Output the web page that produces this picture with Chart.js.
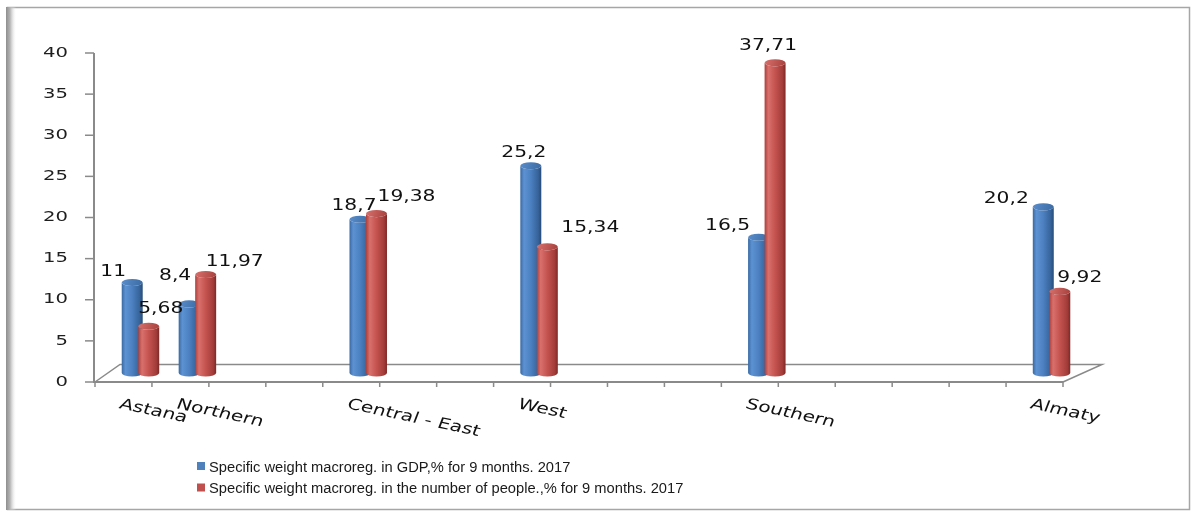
<!DOCTYPE html>
<html>
<head>
<meta charset="utf-8">
<script src="https://cdn.jsdelivr.net/npm/chart.js@4/dist/chart.umd.min.js"></script>
<style>
  html, body { margin: 0; padding: 0; background: #ffffff; }
  #wrap { width: 1192px; height: 511px; position: relative; }
</style>
</head>
<body>
<div id="wrap"><canvas id="chart" width="1192" height="511"></canvas></div>
<script>
// Macro-regions on the category axis (empty slots keep the original spacing)
const regions = ['Astana', 'Northern', '', '', 'Central - East', '', '', 'West', '', '', '',
                 'Southern', '', '', '', '', 'Almaty'];

// Share of GDP, % for 9 months 2017
const gdpShare = [11, 8.4, null, null, 18.7, null, null, 25.2, null, null, null,
                  16.5, null, null, null, null, 20.2];

// Share of population, % for 9 months 2017
const populationShare = [5.68, 11.97, null, null, 19.38, null, null, 15.34, null, null, null,
                         37.71, null, null, null, null, 9.92];

const seriesNames = [
  'Specific weight macroreg. in GDP,% for 9 months. 2017',
  'Specific weight macroreg. in the number of people.,% for 9 months. 2017'
];

const yTickValues = [0, 5, 10, 15, 20, 25, 30, 35, 40];

// Where each value label sits relative to the top of its column [dx, dy]
const gdpLabelNudge = [[-19, -10], [-14, -28], null, null, [-6, -13], null, null, [-7, -13], null, null, null,
                       [-31, -11], null, null, null, null, [-37, -8]];
const popLabelNudge = [[12, -17], [29, -12], null, null, [30, -16], null, null, [43, -19], null, null, null,
                       [-7, -17], null, null, null, null, [20, -13]];

// Styling
const BLUE = '#4F81BD';
const RED = '#C0504D';
const palettes = [
  { body: [[0, '#3a6aa3'], [0.18, '#5d92d2'], [0.5, '#4c80c0'], [0.85, '#36639a'], [1, '#274c79']],
    top: ['#5a8dcc', '#3b6aa2'] },
  { body: [[0, '#ab3f3c'], [0.18, '#d9706c'], [0.5, '#c4534f'], [0.85, '#a33d3a'], [1, '#7e2826']],
    top: ['#d8716c', '#a6403d'] }
];
const labelNudges = [gdpLabelNudge, popLabelNudge];

// 3D projection of the column row and of the floor
const COL_DX = 17, COL_DY = -9;
const FLOOR_BACK_LEFT_DX = 25, FLOOR_BACK_RIGHT_DX = 39, FLOOR_DEPTH = 17.5;
const AXIS_GRAY = '#8a8a8a';
const TEXT_STRETCH = 1.35;

function fmt(v) { return String(v).replace('.', ','); }

function stretchedText(ctx, text, x, y, font, stretch, align, baseline, angle) {
  ctx.save();
  ctx.translate(x, y);
  ctx.scale(stretch, 1);
  if (angle) ctx.rotate(angle);
  ctx.font = font;
  ctx.textAlign = align;
  ctx.textBaseline = baseline;
  ctx.fillText(text, 0, 0);
  ctx.restore();
}

function drawCylinder(ctx, cx, top, base, w, pal) {
  const x0 = cx - w / 2, x1 = cx + w / 2, rx = w / 2, ry = w * 0.17;
  const g = ctx.createLinearGradient(x0, 0, x1, 0);
  pal.body.forEach(([s, c]) => g.addColorStop(s, c));
  ctx.fillStyle = g;
  ctx.beginPath();
  ctx.moveTo(x0, top);
  ctx.lineTo(x0, base);
  ctx.ellipse(cx, base, rx, ry, 0, Math.PI, 0, true);
  ctx.lineTo(x1, top);
  ctx.ellipse(cx, top, rx, ry, 0, 0, Math.PI, false);
  ctx.closePath();
  ctx.fill();
  const tg = ctx.createLinearGradient(x0, top - ry, x1, top + ry);
  tg.addColorStop(0, pal.top[0]);
  tg.addColorStop(1, pal.top[1]);
  ctx.fillStyle = tg;
  ctx.beginPath();
  ctx.ellipse(cx, top, rx, ry, 0, 0, Math.PI * 2);
  ctx.fill();
}

const frame3d = {
  id: 'frame3d',
  beforeDraw(chart) {
    const { ctx, width, height } = chart;
    ctx.save();
    ctx.fillStyle = '#ffffff';
    ctx.fillRect(0, 0, width, height);
    // outer frame
    ctx.strokeStyle = '#a6a6a6';
    ctx.lineWidth = 1.5;
    ctx.strokeRect(7.5, 7.5, width - 10, height - 9);
    const sg = ctx.createLinearGradient(6, 0, 16, 0);
    sg.addColorStop(0, '#8e8e8e');
    sg.addColorStop(0.4, '#b4b4b4');
    sg.addColorStop(1, 'rgba(240,240,240,0)');
    ctx.fillStyle = sg;
    ctx.fillRect(6, 7, 10, height - 8);
    ctx.restore();
  },
  beforeDatasetsDraw(chart) {
    const { ctx, chartArea: a, scales: { x, y } } = chart;
    ctx.save();
    ctx.strokeStyle = AXIS_GRAY;
    ctx.lineWidth = 1.5;
    // floor
    const b = a.bottom;
    ctx.beginPath();
    ctx.moveTo(a.left, b);
    ctx.lineTo(a.left + FLOOR_BACK_LEFT_DX, b - FLOOR_DEPTH);
    ctx.lineTo(a.right + FLOOR_BACK_RIGHT_DX, b - FLOOR_DEPTH);
    ctx.lineTo(a.right, b);
    ctx.stroke();
    // value axis
    ctx.lineWidth = 2;
    ctx.beginPath();
    ctx.moveTo(a.left - 1, y.getPixelForValue(40));
    ctx.lineTo(a.left - 1, b);
    ctx.lineTo(a.right, b);
    ctx.stroke();
    ctx.lineWidth = 1.5;
    ctx.fillStyle = '#1e1e1e';
    yTickValues.forEach(v => {
      const py = y.getPixelForValue(v);
      ctx.beginPath();
      ctx.moveTo(a.left - 10, py);
      ctx.lineTo(a.left - 1, py);
      ctx.stroke();
      stretchedText(ctx, String(v), a.left - 27, py, '14px "DejaVu Sans"', 1.4, 'right', 'middle');
    });
    // category boundaries
    const step = (a.right - a.left) / regions.length;
    for (let i = 0; i <= regions.length; i++) {
      const px = a.left + i * step;
      ctx.beginPath();
      ctx.moveTo(px, b);
      ctx.lineTo(px, b + 5);
      ctx.stroke();
    }
    // category names
    ctx.fillStyle = '#111111';
    regions.forEach((name, i) => {
      if (!name) return;
      const cx = x.getPixelForValue(i);
      stretchedText(ctx, name, cx - 1, b + 15, '15px "DejaVu Sans"', TEXT_STRETCH, 'left', 'top', 0.28);
    });
    ctx.restore();
  },
  beforeDatasetDraw() { return false; },
  afterDatasetsDraw(chart) {
    const { ctx } = chart;
    ctx.save();
    chart.data.datasets.forEach((ds, di) => {
      const meta = chart.getDatasetMeta(di);
      meta.data.forEach((el, i) => {
        if (ds.data[i] == null) return;
        const p = el.getProps(['x', 'y', 'base', 'width'], true);
        drawCylinder(ctx, p.x + COL_DX, p.y + COL_DY, p.base + COL_DY, p.width, palettes[di]);
      });
    });
    ctx.fillStyle = '#111111';
    chart.data.datasets.forEach((ds, di) => {
      const meta = chart.getDatasetMeta(di);
      meta.data.forEach((el, i) => {
        if (ds.data[i] == null) return;
        const p = el.getProps(['x', 'y'], true);
        const n = labelNudges[di][i] || [0, -14];
        stretchedText(ctx, fmt(ds.data[i]), p.x + COL_DX + n[0], p.y + COL_DY + n[1],
          '15px "DejaVu Sans"', TEXT_STRETCH, 'center', 'middle');
      });
    });
    ctx.restore();
  },
  afterDraw(chart) {
    const { ctx } = chart;
    ctx.save();
    ctx.font = '14.7px "Liberation Sans"';
    ctx.textAlign = 'left';
    ctx.textBaseline = 'alphabetic';
    chart.data.datasets.forEach((ds, di) => {
      const top = 462 + di * 21.5;
      ctx.fillStyle = ds.backgroundColor;
      ctx.fillRect(197, top, 8, 8);
      ctx.fillStyle = '#1a1a1a';
      ctx.fillText(ds.label, 209, top + 9.5);
    });
    ctx.restore();
  }
};

new Chart(document.getElementById('chart'), {
  type: 'bar',
  data: {
    labels: regions,
    datasets: [
      { label: seriesNames[0], data: gdpShare, backgroundColor: BLUE },
      { label: seriesNames[1], data: populationShare, backgroundColor: RED }
    ]
  },
  options: {
    responsive: false,
    animation: false,
    devicePixelRatio: 1,
    layout: { padding: { left: 95, right: 129, top: 53, bottom: 129 } },
    datasets: { bar: { categoryPercentage: 0.58, barPercentage: 1.27, skipNull: false } },
    scales: {
      x: { display: false, offset: true, grid: { display: false } },
      y: { display: false, min: 0, max: 40, ticks: { stepSize: 5 } }
    },
    plugins: { legend: { display: false }, tooltip: { enabled: false } }
  },
  plugins: [frame3d]
});
</script>
</body>
</html>
